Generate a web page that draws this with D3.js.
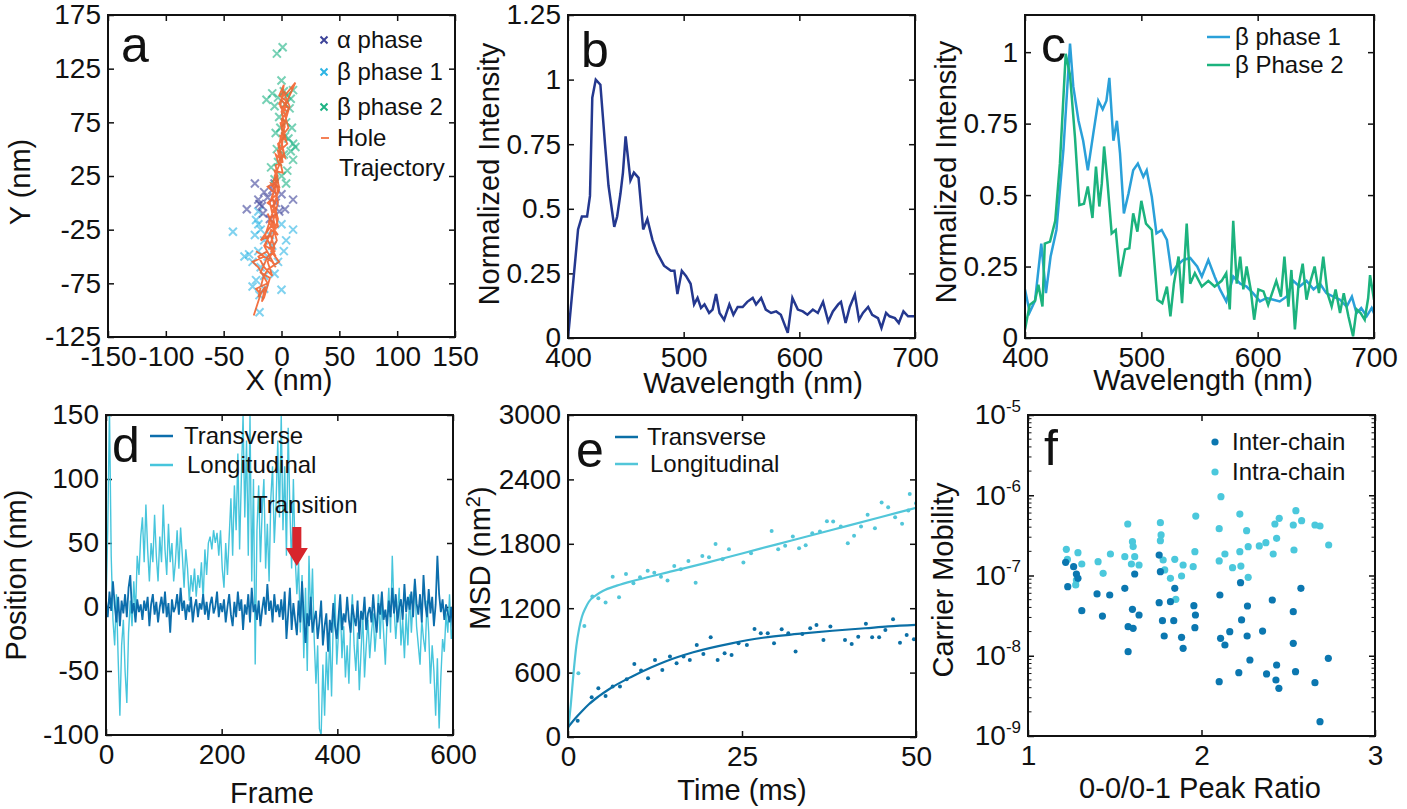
<!DOCTYPE html>
<html>
<head>
<meta charset="utf-8">
<script src="https://cdn.jsdelivr.net/npm/d3@7"></script>
<style>
  body { margin: 0; background: #fff; }
</style>
</head>
<body>
<svg id="fig" width="1407" height="809"></svg>
<script>
// ---------- panel a : positions (nm) ----------
const alphaPts = [[-23,18],[-30,-6],[-20,3],[10,3],[3,-6],[-15,10],[-17,-3],[-12,5],[-8,12],[-5,0],[-2,-8],[-16,-10],[-10,-15],[-19,-1],[0,8],[-6,18]];
const beta1Pts = [[-42,-27],[-32,-50],[10,-25],[4,-35],[-25,-78],[-19,-102],[0,-81],[-19,-86],[-6,-66],[-22,-16],[-20,-20],[-18,-25],[-23,-30],[-15,-35],[-20,-45],[-25,-55],[-18,-60],[-12,-50],[-22,-72],[-15,-80],[-8,-40],[-3,-55],[2,-45],[-10,-30],[-20,-8],[-15,-68],[-28,-48],[0,-20]];
const beta2Pts = [[1,145],[-4,139],[0,114],[-13,96],[-8,102],[-3,98],[2,104],[5,100],[8,97],[10,105],[-6,90],[3,92],[7,88],[-2,80],[4,75],[9,70],[-5,65],[6,60],[10,55],[12,52],[8,48],[-4,50],[2,45],[-9,33],[-3,38],[5,30],[0,25],[4,18],[-6,22],[10,40],[3,62],[-1,70]];
const holeTraj = [[-24,-105],[-18,-85],[-22,-80],[-12,-75],[-20,-60],[-25,-55],[-15,-50],[-22,-45],[-8,-55],[-5,-60],[-15,-40],[-10,-30],[-18,-35],[-8,-20],[-12,-10],[-5,-25],[-10,0],[-7,10],[-12,15],[-4,20],[-8,5],[-3,-15],[-10,-40],[-5,-50],[-14,-30],[-8,-10],[-3,10],[-6,25],[-2,35],[-5,45],[0,40],[-3,55],[2,60],[-1,75],[3,70],[0,85],[4,95],[-2,100],[2,110],[-1,90],[4,80],[1,65],[5,55],[0,50],[3,75],[7,90],[3,100],[12,112],[5,95],[2,85],[6,70],[-1,60],[2,45],[-4,30],[-7,20],[-3,0],[-8,-20],[-4,-35],[-9,-45],[-2,-55],[-12,-62],[-16,-70],[-20,-88],[-14,-78],[-17,-92],[-15,-88],[-10,-70],[-18,-65],[-12,-50],[-6,-45],[-14,-40],[-9,-25],[-3,-30],[-11,-18],[-6,-5],[-12,0],[-4,8],[-9,18],[-2,15],[-6,30],[1,28],[-3,48],[3,42],[-1,62],[4,58],[0,78],[5,85],[-2,92],[3,104],[0,96],[6,88],[2,72],[-2,55],[1,38],[-5,35],[-2,12],[-7,-2],[-3,-22],[-10,-28],[-6,-42],[-12,-55],[-8,-68],[-15,-60],[-20,-50],[-12,-45]];

// ---------- panel b : spectrum (wavelength, intensity) ----------
const spectrumAlpha = [[400,0.0],[405,0.24],[408.7,0.42],[412,0.47],[416.5,0.47],[419,0.55],[421,0.93],[424,1.0],[428,0.98],[432,0.75],[435,0.59],[440,0.43],[442.5,0.47],[445.4,0.56],[447.5,0.64],[449.8,0.78],[451.8,0.70],[454,0.61],[457,0.64],[461,0.62],[465,0.42],[468.6,0.46],[473,0.38],[477,0.33],[483,0.28],[489,0.26],[492,0.26],[494.6,0.17],[498.4,0.26],[502,0.24],[506,0.21],[509,0.13],[512,0.155],[515,0.116],[518,0.13],[522,0.097],[525,0.11],[528,0.17],[531,0.097],[535,0.07],[539.5,0.13],[543,0.09],[546.7,0.12],[551,0.12],[555,0.14],[559.7,0.155],[562.6,0.13],[567,0.155],[571,0.11],[575.6,0.097],[580,0.103],[584,0.09],[590,0.02],[594,0.155],[598.7,0.11],[603,0.103],[607,0.09],[611.7,0.11],[616,0.097],[620.5,0.14],[625,0.064],[629,0.103],[633.6,0.13],[636,0.14],[640,0.058],[643.6,0.12],[648,0.168],[651.6,0.07],[655,0.097],[659.5,0.12],[663,0.09],[668,0.077],[671,0.039],[675,0.097],[678,0.084],[682.6,0.077],[686,0.058],[690,0.103],[694,0.084],[700,0.084]];

// ---------- panel c : beta phase spectra ----------
const spectrumBeta1 = [[400,0.17],[404,0.09],[408.6,0.13],[414,0.33],[418,0.157],[422,0.285],[427,0.378],[433,0.657],[438.7,1.03],[441.5,0.88],[446,0.76],[450,0.69],[454,0.587],[458.7,0.715],[463,0.83],[466.8,0.8],[470,0.83],[472.5,0.91],[476,0.69],[479,0.76],[481.7,0.645],[485,0.436],[489,0.506],[493,0.587],[497,0.61],[501.7,0.564],[504.6,0.587],[509,0.494],[513,0.366],[517.5,0.378],[522,0.343],[526,0.227],[530,0.25],[536,0.273],[542,0.28],[548,0.25],[552,0.215],[557.6,0.273],[563,0.215],[567.6,0.17],[573,0.128],[579,0.215],[585,0.19],[590.5,0.18],[596,0.157],[602,0.128],[607.7,0.14],[613.5,0.134],[619,0.128],[625,0.145],[630.6,0.2],[636,0.18],[642,0.2],[648,0.17],[653.6,0.19],[659,0.157],[665,0.145],[670.8,0.134],[676.5,0.11],[681,0.145],[685,0.087],[689,0.105],[693.7,0.076],[698,0.105],[700,0.087]];
const spectrumBeta2 = [[400,0.03],[404,0.116],[408.6,0.13],[411.5,0.186],[415,0.11],[417,0.33],[421.5,0.337],[426,0.41],[430,0.61],[435,0.994],[438.7,0.92],[443,0.7],[446.7,0.465],[450.7,0.47],[454,0.53],[458,0.42],[461,0.6],[463.9,0.46],[466,0.54],[468,0.67],[470.8,0.55],[474.5,0.366],[478,0.378],[481.7,0.215],[486,0.31],[489.7,0.314],[493,0.436],[496.6,0.372],[500,0.48],[504,0.4],[509,0.378],[513.8,0.134],[518,0.122],[522,0.18],[525,0.076],[528,0.19],[532,0.285],[535,0.122],[539,0.4],[542,0.19],[546,0.227],[552,0.18],[557.6,0.2],[563,0.18],[569,0.2],[573,0.227],[576,0.1],[579,0.41],[582,0.19],[585,0.285],[587.7,0.17],[590.5,0.25],[594,0.17],[597,0.064],[600.6,0.17],[605,0.163],[609,0.116],[613.5,0.17],[616,0.2],[620,0.145],[623,0.285],[626.4,0.11],[629,0.238],[632,0.03],[635,0.18],[638.7,0.26],[642,0.134],[645.5,0.2],[649,0.25],[652.7,0.157],[656.4,0.285],[660,0.157],[663.6,0.11],[667,0.17],[670.8,0.087],[674,0.157],[678,0.076],[682,0.006],[685,0.1],[688.5,0.087],[692,0.064],[695,0.14],[696.6,0.22],[700,0.134]];

// ---------- panel d : position vs frame (every 3 frames) ----------
const frameStep = 3;
const longitudinal = [
  0,60,155,40,-10,-30,10,-40,-85,-30,-10,-50,-75,-20,5,-15,20,-5,40,25,55,
  70,35,80,45,20,50,35,72,40,20,55,35,80,45,25,65,35,50,20,35,
  60,30,62,40,15,45,30,5,25,12,30,8,25,15,35,5,45,25,50,55,
  45,60,50,58,40,60,30,15,50,25,55,85,40,95,60,120,45,100,150,70,
  130,40,150,20,100,-45,60,95,35,75,100,30,65,20,85,110,50,80,130,70,
  150,60,110,40,140,75,30,100,40,10,35,-20,25,-40,15,-50,40,-10,30,-25,
  -60,-30,-95,-100,-45,-85,-35,-65,-20,-70,-10,10,-45,-20,5,-40,-15,-55,-30,-60,
  -15,10,-30,-50,-20,-65,-35,-5,-55,-30,-10,-40,-20,-5,-35,-15,10,-25,5,-20,
  -45,-10,15,-20,40,0,-25,-5,15,-30,-10,-40,-5,-30,10,-20,5,20,-15,-30,
  -45,-10,-25,-35,5,-20,-60,-30,-50,-85,-40,-95,-55,-25,-35,-5,-20,10,-25,-15];
const transverse = [
  5,-8,12,-3,20,2,-12,8,-15,5,-5,10,-8,15,25,-5,3,-12,6,-4,2,
  -10,5,-3,8,-15,2,10,-6,4,-12,0,8,-5,12,-8,3,-20,6,-4,0,
  10,-6,15,-3,5,-10,2,-4,8,-12,0,6,-8,3,-2,10,-6,4,-10,2,
  8,-5,0,12,-8,3,-4,6,-12,0,10,-6,-15,4,-8,12,-3,6,-18,2,
  -6,10,-12,15,-4,2,-10,5,-15,-2,8,-6,18,-3,5,-12,10,-4,2,-8,
  6,-10,12,-25,-5,15,-18,3,-10,-22,5,-12,20,-8,-28,-5,-15,8,-20,-10,
  -3,-25,-12,5,-30,-15,-5,-35,-10,-20,3,-15,-25,-8,10,-18,-5,-12,8,-10,
  -20,2,-8,-15,5,-25,-3,-10,8,-18,-5,0,-12,10,-8,-20,3,-6,12,-10,
  -2,-15,5,-8,15,-5,10,-12,0,6,-10,18,-4,8,-2,12,-8,22,3,-6,
  10,-12,25,2,-8,14,-5,8,-15,2,40,10,-4,6,-10,2,-5,-12,0,-20];
const transitionFrame = 330;

// ---------- panel e : MSD (time ms, nm^2) ----------
const msdLongPts = [[1.49,593],[2.35,1034],[3.5,1308],[4.36,1293],[5.4,1252],[6.42,1494],[7.33,1302],[8.33,1519],[9.4,1432],[10.35,1488],[11.45,1550],[12.4,1531],[13.36,1494],[14.3,1457],[15.27,1594],[16.2,1563],[17.3,1640],[18.34,1438],[19.3,1687],[20.26,1675],[21.2,1799],[22.2,1656],[23.13,1750],[25.2,1625],[26.3,1712],[29.26,1920],[30.2,1750],[31.2,1781],[32.3,1868],[33.2,1759],[34.15,1787],[35.1,1899],[36.2,1914],[37.2,2010],[38.1,2007],[39.2,1961],[40.2,1806],[41.1,1874],[42.1,1961],[43.05,2070],[44.1,1945],[45.06,2184],[46,2141],[47,2048],[48,1986],[48.9,2110],[49.1,2265],[50,2178]];
const msdTransPts = [[1.39,152],[3.4,370],[4.36,454],[5.4,382],[6.42,470],[7.47,470],[8.43,538],[9.53,681],[10.5,619],[11.5,547],[12.5,718],[13.55,625],[14.65,749],[15.6,687],[16.6,749],[17.5,718],[18.5,858],[19.45,774],[20.5,929],[21.5,718],[22.5,780],[23.5,765],[24.5,873],[25.7,858],[26.8,1007],[27.7,967],[28.7,967],[29.6,873],[30.7,1004],[31.65,967],[32.7,796],[33.67,960],[34.8,1013],[35.7,1044],[36.7,904],[37.7,1029],[39.8,904],[40.76,867],[41.7,935],[42.8,1054],[43.7,929],[44.7,929],[45.6,998],[46.7,1097],[47.7,879],[48.66,951],[49.7,910]];
const msdLongFit = [[0,60],[0.4,300],[0.8,600],[1.2,850],[1.6,1010],[2,1120],[2.5,1200],[3,1260],[4,1320],[5,1360],[7,1410],[10,1465],[15,1545],[20,1625],[25,1710],[30,1795],[35,1880],[40,1965],[45,2050],[50,2135]];
const msdTransFit = [[0,90],[1,170],[2,240],[3,305],[4.35,376],[6,450],[9.15,562],[12,650],[13.9,702],[18,790],[23.5,873],[28,925],[33,960],[38,990],[42.7,1013],[46,1030],[50,1044]];

// ---------- panel f : mobility vs 0-0/0-1 peak ratio (log10 mobility) ----------
const intraChain = [[1.221,-6.674],[1.227,-6.80],[1.288,-6.716],[1.31,-6.857],[1.279,-7.056],[1.275,-7.118],[1.404,-6.828],[1.433,-6.973],[1.475,-6.732],[1.558,-6.765],[1.575,-6.358],[1.602,-6.578],[1.606,-6.64],[1.596,-6.857],[1.615,-6.765],[1.64,-6.869],[1.763,-6.342],[1.767,-6.495],[1.763,-6.566],[1.779,-6.807],[1.788,-6.931],[1.821,-7.035],[1.846,-6.799],[1.852,-7.297],[1.894,-6.869],[1.885,-7.006],[1.952,-6.89],[1.962,-6.703],[1.967,-6.259],[2.102,-6.416],[2.112,-6.018],[2.102,-6.819],[2.135,-6.732],[2.179,-6.902],[2.221,-6.234],[2.221,-6.703],[2.227,-6.882],[2.26,-6.441],[2.269,-6.641],[2.269,-7.023],[2.333,-6.632],[2.371,-6.591],[2.413,-6.732],[2.423,-6.358],[2.433,-6.537],[2.448,-6.288],[2.529,-6.371],[2.533,-6.682],[2.544,-6.192],[2.577,-6.317],[2.654,-6.371],[2.683,-6.383],[2.733,-6.62]];
const interChain = [[1.217,-6.836],[1.229,-7.139],[1.263,-6.89],[1.279,-6.981],[1.288,-7.035],[1.31,-7.438],[1.398,-7.23],[1.429,-7.505],[1.471,-7.243],[1.558,-7.16],[1.615,-6.981],[1.602,-7.422],[1.577,-7.638],[1.606,-7.658],[1.577,-7.949],[1.64,-7.492],[1.756,-6.745],[1.763,-6.952],[1.756,-7.339],[1.821,-7.326],[1.846,-7.16],[1.775,-7.563],[1.84,-7.563],[1.785,-7.754],[1.885,-7.77],[1.894,-7.908],[1.956,-7.376],[1.965,-7.492],[1.962,-7.65],[2.106,-7.243],[2.11,-7.783],[2.135,-7.866],[2.163,-7.7],[2.225,-7.089],[2.231,-7.554],[2.265,-7.38],[2.263,-7.754],[2.279,-8.053],[2.215,-8.211],[2.102,-8.323],[2.352,-7.692],[2.375,-8.227],[2.408,-7.305],[2.433,-8.115],[2.429,-8.302],[2.446,-8.406],[2.529,-7.451],[2.529,-7.845],[2.542,-8.198],[2.573,-7.16],[2.654,-8.335],[2.683,-8.821],[2.731,-8.032]];

// ---------- ticks ----------
const aTicksX = [-150,-100,-50,0,50,100,150];
const aTicksY = [-125,-75,-25,25,75,125,175];
const specTicksX = [400,500,600,700];
const bTicksY = [0,0.25,0.5,0.75,1,1.25];
const cTicksY = [0,0.25,0.5,0.75,1];
const dTicksX = [0,200,400,600];
const dTicksY = [-100,-50,0,50,100,150];
const eTicksX = [0,25,50];
const eTicksY = [0,600,1200,1800,2400,3000];
const fTicksX = [1,2,3];
const fTicksY = [1e-9,1e-8,1e-7,1e-6,1e-5];

const FONT = "'Liberation Sans', Arial, Helvetica, sans-serif";
const svg = d3.select("#fig");
svg.append("rect").attr("width", 1407).attr("height", 809).attr("fill", "#fff");

function makePanel(id, box, x, y, xTicks, yTicks) {
  x.range([box.l, box.r]);
  y.range([box.b, box.t]);
  const g = svg.append("g");
  g.append("clipPath").attr("id", "clip-" + id).append("rect")
    .attr("x", box.l).attr("y", box.t)
    .attr("width", box.r - box.l).attr("height", box.b - box.t);
  const fmt = (d) => String(d);
  const ax = g.append("g");
  ax.append("g").attr("transform", `translate(0,${box.b})`)
    .call(d3.axisBottom(x).tickValues(xTicks).tickSize(-6).tickPadding(9).tickFormat(fmt));
  ax.append("g").attr("transform", `translate(0,${box.t})`)
    .call(d3.axisTop(x).tickValues(xTicks).tickSize(-6).tickFormat(""));
  const yl = ax.append("g").attr("class", "yleft").attr("transform", `translate(${box.l},0)`)
    .call(d3.axisLeft(y).tickValues(yTicks).tickSize(-6).tickPadding(7).tickFormat(fmt));
  ax.append("g").attr("transform", `translate(${box.r},0)`)
    .call(d3.axisRight(y).tickValues(yTicks).tickSize(-6).tickFormat(""));
  ax.selectAll(".domain").remove();
  ax.selectAll(".tick line").attr("stroke", "#111").attr("stroke-width", 1.5);
  ax.selectAll("text").attr("font-size", 28).attr("font-family", FONT).attr("fill", "#111");
  const plot = g.append("g").attr("clip-path", `url(#clip-${id})`);
  return { g, plot, ax, yl, box, x, y };
}

function closePanel(p, letter, lx, ly) {
  const b = p.box;
  p.g.append("rect").attr("x", b.l).attr("y", b.t)
    .attr("width", b.r - b.l).attr("height", b.b - b.t)
    .attr("fill", "none").attr("stroke", "#111").attr("stroke-width", 2);
  p.g.append("text").attr("x", lx).attr("y", ly)
    .attr("font-family", FONT).attr("font-size", 50).attr("fill", "#111").text(letter);
}

function xLabel(cx, by, txt) {
  return svg.append("text").attr("x", cx).attr("y", by).attr("text-anchor", "middle")
    .attr("font-family", FONT).attr("font-size", 29).attr("fill", "#111").text(txt);
}
function yLabel(bx, cy, txt) {
  return svg.append("text").attr("transform", `translate(${bx},${cy}) rotate(-90)`)
    .attr("text-anchor", "middle")
    .attr("font-family", FONT).attr("font-size", 29).attr("fill", "#111").text(txt);
}
function legendText(g, x, cy, txt) {
  g.append("text").attr("x", x).attr("y", cy).attr("dy", "0.35em")
    .attr("font-family", FONT).attr("font-size", 24).attr("fill", "#111").text(txt);
}
function crossPath(s) {
  return `M${-s},${-s}L${s},${s}M${-s},${s}L${s},${-s}`;
}

// ===== panel a =====
const colAlpha = "#3d4399", colB1 = "#2cb4e4", colB2 = "#1db383", colHole = "#f2622e";
const pa = makePanel("a", { l: 108, r: 455, t: 15, b: 337 },
  d3.scaleLinear().domain([-150, 150]), d3.scaleLinear().domain([-125, 175]), aTicksX, aTicksY);
[[beta1Pts, colB1], [alphaPts, colAlpha], [beta2Pts, colB2]].forEach(([pts, col]) => {
  pa.plot.selectAll(null).data(pts).enter().append("path")
    .attr("transform", (d) => `translate(${pa.x(d[0])},${pa.y(d[1])})`)
    .attr("d", crossPath(4)).attr("stroke", col).attr("stroke-width", 2)
    .attr("opacity", 0.6).attr("fill", "none");
});
pa.plot.append("path").datum(holeTraj)
  .attr("d", d3.line().x((d) => pa.x(d[0])).y((d) => pa.y(d[1])))
  .attr("fill", "none").attr("stroke", colHole).attr("stroke-width", 1.8).attr("opacity", 0.9);
const la = pa.g.append("g");
[["α phase", colAlpha, 40], ["β phase 1", colB1, 72], ["β phase 2", colB2, 107]].forEach(([t, c, yy]) => {
  la.append("path").attr("transform", `translate(324,${yy})`).attr("d", crossPath(3.5))
    .attr("stroke", c).attr("stroke-width", 2).attr("fill", "none");
  legendText(la, 337, yy, t);
});
la.append("line").attr("x1", 321).attr("x2", 329).attr("y1", 138).attr("y2", 138)
  .attr("stroke", colHole).attr("stroke-width", 1.6);
legendText(la, 337, 138, "Hole");
legendText(la, 339, 168, "Trajectory");
closePanel(pa, "a", 121, 62);
yLabel(30, 182, "Y (nm)");
xLabel(289, 390, "X (nm)");

// ===== panel b =====
const pb = makePanel("b", { l: 568, r: 915, t: 15, b: 338 },
  d3.scaleLinear().domain([400, 700]), d3.scaleLinear().domain([0, 1.25]), specTicksX, bTicksY);
pb.plot.append("path").datum(spectrumAlpha)
  .attr("d", d3.line().x((d) => pb.x(d[0])).y((d) => pb.y(d[1])))
  .attr("fill", "none").attr("stroke", "#24388f").attr("stroke-width", 2.5);
closePanel(pb, "b", 581, 67);
yLabel(499, 174, "Normalized Intensity");
xLabel(753, 393, "Wavelength (nm)");

// ===== panel c =====
const colC1 = "#2aa0d9", colC2 = "#1cb37e";
const pc = makePanel("c", { l: 1025, r: 1374, t: 15, b: 338 },
  d3.scaleLinear().domain([400, 700]), d3.scaleLinear().domain([0, 1.13]), specTicksX, cTicksY);
[[spectrumBeta1, colC1], [spectrumBeta2, colC2]].forEach(([s, c]) => {
  pc.plot.append("path").datum(s)
    .attr("d", d3.line().x((d) => pc.x(d[0])).y((d) => pc.y(d[1])))
    .attr("fill", "none").attr("stroke", c).attr("stroke-width", 2.5);
});
const lc = pc.g.append("g");
[["β phase 1", colC1, 37], ["β Phase 2", colC2, 65]].forEach(([t, c, yy]) => {
  lc.append("line").attr("x1", 1207).attr("x2", 1230).attr("y1", yy).attr("y2", yy)
    .attr("stroke", c).attr("stroke-width", 2.5);
  legendText(lc, 1235, yy, t);
});
closePanel(pc, "c", 1041, 62);
yLabel(956, 172, "Normalized Intensity");
xLabel(1203, 390, "Wavelength (nm)");

// ===== panel d =====
const colTrans = "#0c6eac", colLong = "#47c5dc";
const pd = makePanel("d", { l: 106, r: 453, t: 415, b: 735 },
  d3.scaleLinear().domain([0, 600]), d3.scaleLinear().domain([-100, 150]), dTicksX, dTicksY);
const dLine = d3.line().x((d, i) => pd.x(i * frameStep)).y((d) => pd.y(d));
pd.plot.append("path").datum(longitudinal).attr("d", dLine)
  .attr("fill", "none").attr("stroke", colLong).attr("stroke-width", 1.4);
pd.plot.append("path").datum(transverse).attr("d", dLine)
  .attr("fill", "none").attr("stroke", colTrans).attr("stroke-width", 1.8);
const ld = pd.g.append("g");
[["Transverse", colTrans, 436, 184], ["Longitudinal", colLong, 465, 187]].forEach(([t, c, yy, tx]) => {
  ld.append("line").attr("x1", 150).attr("x2", 173).attr("y1", yy).attr("y2", yy)
    .attr("stroke", c).attr("stroke-width", 2.5);
  legendText(ld, tx, yy, t);
});
// transition arrow
const ax0 = pd.x(transitionFrame);
ld.append("text").attr("x", 253).attr("y", 513).attr("font-family", FONT)
  .attr("font-size", 24).attr("fill", "#111").text("Transition");
ld.append("path")
  .attr("d", `M${ax0 - 4.5},527L${ax0 + 4.5},527L${ax0 + 4.5},548L${ax0 + 11},548L${ax0},566L${ax0 - 11},548L${ax0 - 4.5},548Z`)
  .attr("fill", "#d7262d");
closePanel(pd, "d", 112, 462);
yLabel(26, 575, "Position (nm)");
xLabel(272, 803, "Frame");

// ===== panel e =====
const colETrans = "#0b6fa6", colELong = "#52c6d9";
const pe = makePanel("e", { l: 568, r: 916, t: 415, b: 737 },
  d3.scaleLinear().domain([0, 50]), d3.scaleLinear().domain([0, 3000]), eTicksX, eTicksY);
const eLine = d3.line().curve(d3.curveMonotoneX).x((d) => pe.x(d[0])).y((d) => pe.y(d[1]));
[[msdLongPts, msdLongFit, colELong], [msdTransPts, msdTransFit, colETrans]].forEach(([pts, fit, c]) => {
  pe.plot.selectAll(null).data(pts).enter().append("circle")
    .attr("cx", (d) => pe.x(d[0])).attr("cy", (d) => pe.y(d[1])).attr("r", 2).attr("fill", c);
  pe.plot.append("path").datum(fit).attr("d", eLine)
    .attr("fill", "none").attr("stroke", c).attr("stroke-width", 2.2);
});
const le = pe.g.append("g");
[["Transverse", colETrans, 437, 647], ["Longitudinal", colELong, 464, 650]].forEach(([t, c, yy, tx]) => {
  le.append("line").attr("x1", 615).attr("x2", 638).attr("y1", yy).attr("y2", yy)
    .attr("stroke", c).attr("stroke-width", 2.5);
  legendText(le, tx, yy, t);
});
closePanel(pe, "e", 576, 467);
const msdLab = yLabel(490, 558, "");
msdLab.append("tspan").text("MSD (nm");
msdLab.append("tspan").attr("dy", "-0.5em").attr("font-size", 20).text("2");
msdLab.append("tspan").attr("dy", "0.35em").text(")");
xLabel(742, 800, "Time (ms)");

// ===== panel f =====
const colInter = "#0b77b0", colIntra = "#4bc8dc";
const pf = makePanel("f", { l: 1028, r: 1375, t: 415, b: 736 },
  d3.scaleLinear().domain([1, 3]), d3.scaleLog().domain([1e-9, 1e-5]), fTicksX, fTicksY);
pf.yl.selectAll(".tick text").each(function (d) {
  const t = d3.select(this).text(null);
  t.append("tspan").text("10");
  t.append("tspan").attr("dy", "-0.75em").attr("font-size", 17).text(String(Math.round(Math.log10(d))));
});
// minor log ticks
const minorVals = [];
[-9, -8, -7, -6].forEach((k) => [2, 3, 4, 5, 6, 7, 8, 9].forEach((m) => minorVals.push(m * Math.pow(10, k))));
pf.ax.selectAll(".minor").data(minorVals).enter().append("path")
  .attr("d", (d) => `M1028,${pf.y(d)}h3.5M1375,${pf.y(d)}h-3.5`)
  .attr("stroke", "#111").attr("stroke-width", 1);
[[intraChain, colIntra], [interChain, colInter]].forEach(([pts, c]) => {
  pf.plot.selectAll(null).data(pts).enter().append("circle")
    .attr("cx", (d) => pf.x(d[0])).attr("cy", (d) => pf.y(Math.pow(10, d[1])))
    .attr("r", 3.6).attr("fill", c);
});
const lf = pf.g.append("g");
[["Inter-chain", colInter, 442], ["Intra-chain", colIntra, 472]].forEach(([t, c, yy]) => {
  lf.append("circle").attr("cx", 1215).attr("cy", yy).attr("r", 3.6).attr("fill", c);
  legendText(lf, 1232, yy, t);
});
closePanel(pf, "f", 1044, 465);
yLabel(953, 580, "Carrier Mobility");
xLabel(1200, 798, "0-0/0-1 Peak Ratio");
</script>
</body>
</html>
